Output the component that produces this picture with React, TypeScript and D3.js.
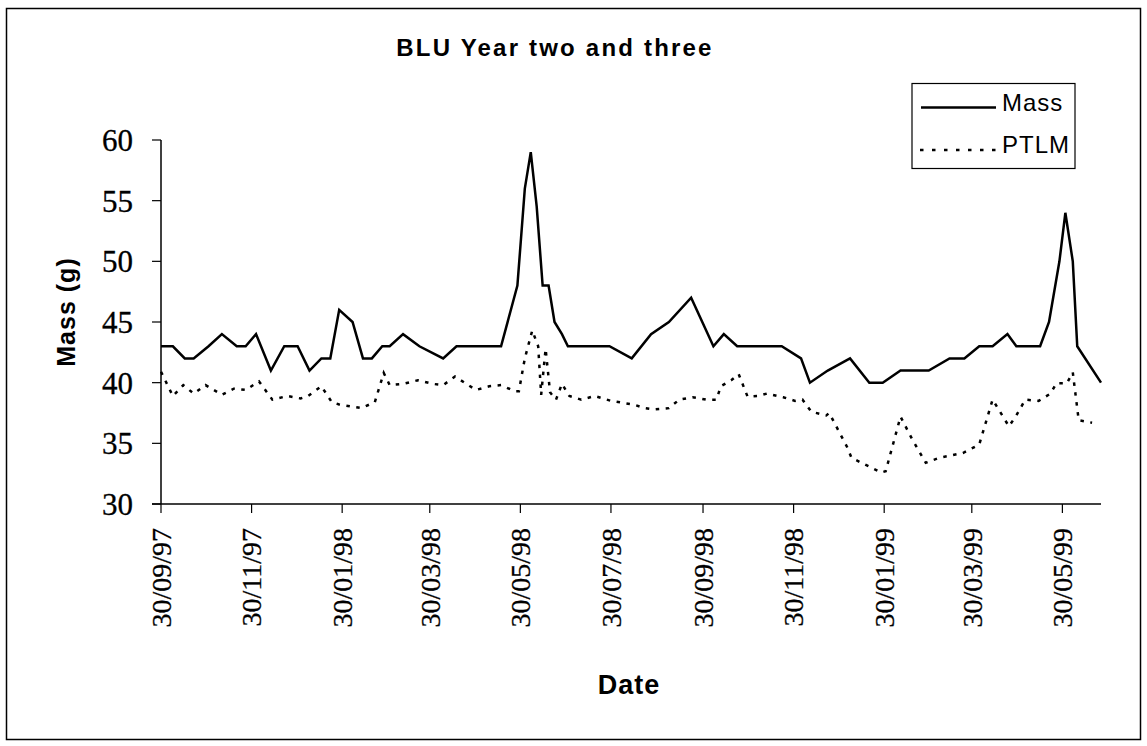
import React from 'react'
import * as d3 from 'd3'

// Mass series (g)
const massDates = [
  '1997-09-30', '1997-10-08', '1997-10-16', '1997-10-22', '1997-11-01', '1997-11-10',
  '1997-11-20', '1997-11-26', '1997-12-03', '1997-12-13', '1997-12-22', '1997-12-31',
  '1998-01-08', '1998-01-16', '1998-01-22', '1998-01-28', '1998-02-06', '1998-02-13',
  '1998-02-19', '1998-02-26', '1998-03-03', '1998-03-12', '1998-03-23', '1998-04-08',
  '1998-04-17', '1998-05-03', '1998-05-17', '1998-05-28', '1998-06-02', '1998-06-06',
  '1998-06-10', '1998-06-14', '1998-06-18', '1998-06-22', '1998-06-27', '1998-07-01',
  '1998-07-29', '1998-08-13', '1998-08-26', '1998-09-07', '1998-09-22', '1998-10-07',
  '1998-10-14', '1998-10-23', '1998-11-22', '1998-12-05', '1998-12-11', '1998-12-23',
  '1999-01-07', '1999-01-20', '1999-01-29', '1999-02-10', '1999-03-01', '1999-03-15',
  '1999-03-25', '1999-04-04', '1999-04-13', '1999-04-23', '1999-04-29', '1999-05-15',
  '1999-05-21', '1999-05-28', '1999-06-01', '1999-06-06', '1999-06-09', '1999-06-25'
]
const massValues = [
  43, 43, 42, 42, 43, 44,
  43, 43, 44, 41, 43, 43,
  41, 42, 42, 46, 45, 42,
  42, 43, 43, 44, 43, 42,
  43, 43, 43, 48, 56, 59,
  54.5, 48, 48, 45, 44, 43,
  43, 42, 44, 45, 47, 43,
  44, 43, 43, 42, 40, 41,
  42, 40, 40, 41, 41, 42,
  42, 43, 43, 44, 43, 43,
  45, 50, 54, 50, 43, 40
]

// PTLM series (g)
const ptlmDates = [
  '1997-09-30', '1997-10-08', '1997-10-15', '1997-10-22', '1997-10-30', '1997-11-10',
  '1997-11-18', '1997-11-26', '1997-12-05', '1997-12-14', '1997-12-24', '1998-01-02',
  '1998-01-07', '1998-01-16', '1998-01-23', '1998-01-28', '1998-02-12', '1998-02-21',
  '1998-02-27', '1998-03-03', '1998-03-12', '1998-03-22', '1998-04-01', '1998-04-08',
  '1998-04-16', '1998-04-30', '1998-05-09', '1998-05-17', '1998-05-26', '1998-05-29',
  '1998-06-02', '1998-06-07', '1998-06-11', '1998-06-13', '1998-06-16', '1998-06-19',
  '1998-06-23', '1998-06-27', '1998-07-02', '1998-07-10', '1998-07-19', '1998-07-30',
  '1998-08-14', '1998-08-22', '1998-08-28', '1998-09-07', '1998-09-14', '1998-09-23',
  '1998-10-02', '1998-10-09', '1998-10-12', '1998-10-19', '1998-10-24', '1998-10-30',
  '1998-11-06', '1998-11-12', '1998-11-23', '1998-12-01', '1998-12-06', '1998-12-12',
  '1998-12-22', '1998-12-24', '1999-01-05', '1999-01-08', '1999-01-18', '1999-01-28',
  '1999-01-31', '1999-02-10', '1999-02-18', '1999-02-27', '1999-03-08', '1999-03-16',
  '1999-03-24', '1999-04-04', '1999-04-13', '1999-04-24', '1999-04-29', '1999-05-05',
  '1999-05-14', '1999-05-22', '1999-05-26', '1999-06-02', '1999-06-06', '1999-06-10',
  '1999-06-19'
]
const ptlmValues = [
  40.9, 38.9, 39.8, 39.1, 39.8, 39.0,
  39.5, 39.4, 40.1, 38.6, 38.9, 38.7,
  38.9, 39.7, 38.4, 38.2, 37.9, 38.4,
  40.8, 39.8, 39.9, 40.2, 39.9, 39.8,
  40.5, 39.4, 39.7, 39.8, 39.3, 39.3,
  42.0, 44.3, 43.0, 39.0, 42.8, 39.2,
  38.6, 39.9, 38.9, 38.6, 38.9, 38.5,
  38.2, 37.9, 37.8, 37.9, 38.6, 38.8,
  38.6, 38.6, 39.7, 40.2, 40.7, 38.85,
  38.9, 39.1, 38.8, 38.5, 38.6, 37.6,
  37.3, 37.5, 34.7, 33.8, 33.2, 32.6,
  32.7, 37.2, 35.3, 33.4, 33.8, 34.0,
  34.2, 34.9, 38.6, 36.4, 37.3, 38.6,
  38.5, 39.1, 39.95, 39.95, 40.85, 36.9,
  36.7
]

const tickDates = [
  '1997-09-30', '1997-11-30', '1998-01-30', '1998-03-30', '1998-05-30', '1998-07-30',
  '1998-09-30', '1998-11-30', '1999-01-30', '1999-03-30', '1999-05-30'
]
const yTicks = [30, 35, 40, 45, 50, 55, 60]

const parse = d3.timeParse('%Y-%m-%d')
const fmt = d3.timeFormat('%d/%m/%y')

const App = () => {
  const left = 161, right = 1101, top = 140, bottom = 504

  const x = d3.scaleTime()
    .domain([parse('1997-09-30') as Date, parse('1999-06-25') as Date])
    .range([left, right])
  const y = d3.scaleLinear().domain([30, 60]).range([bottom, top])

  const line = d3.line<[string, number]>()
    .x(d => x(parse(d[0]) as Date))
    .y(d => y(d[1]))

  const massPath = line(massDates.map((d, i) => [d, massValues[i]] as [string, number])) || ''
  const ptlmPath = line(ptlmDates.map((d, i) => [d, ptlmValues[i]] as [string, number])) || ''

  const sans = 'Arial, "Liberation Sans", sans-serif'
  const serif = '"Times New Roman", "Liberation Serif", serif'

  return (
    <svg width={1147} height={746} style={{ position: 'absolute', left: 0, top: 0, background: '#fff' }}>
      <rect x={6.5} y={8.5} width={1134} height={731} fill="#fff" stroke="#000" strokeWidth={1.5} />

      {/* Title */}
      <text x={555} y={56} textAnchor="middle" fontFamily={sans} fontWeight="bold" fontSize={24}
        letterSpacing={2.2}>BLU Year two and three</text>

      {/* Y axis */}
      <line x1={left} x2={left} y1={top} y2={bottom} stroke="#000" strokeWidth={1.5} />
      {yTicks.map(t => (
        <g key={t}>
          <line x1={left - 9} x2={left} y1={y(t)} y2={y(t)} stroke="#000" strokeWidth={1.2} />
          <text x={133} y={y(t)} dy="0.35em" textAnchor="end" fontFamily={serif} fontSize={31}
            stroke="#000" strokeWidth={0.3}>{t}</text>
        </g>
      ))}

      {/* X axis */}
      <line x1={left - 9} x2={right} y1={bottom} y2={bottom} stroke="#000" strokeWidth={1.5} />
      {tickDates.map(t => {
        const px = x(parse(t) as Date)
        return (
          <g key={t}>
            <line x1={px} x2={px} y1={bottom} y2={bottom + 9} stroke="#000" strokeWidth={1.2} />
            <text transform={`translate(${px},528) rotate(-90)`} dy="0.35em" textAnchor="end"
              fontFamily={serif} fontSize={28} stroke="#000" strokeWidth={0.3}>{fmt(parse(t) as Date)}</text>
          </g>
        )
      })}

      {/* Axis titles */}
      <text transform="translate(75,312) rotate(-90)" textAnchor="middle" fontFamily={sans}
        fontWeight="bold" fontSize={25} letterSpacing={1}>Mass (g)</text>
      <text x={629} y={694} textAnchor="middle" fontFamily={sans} fontWeight="bold" fontSize={27}
        letterSpacing={1}>Date</text>

      {/* Series */}
      <path d={ptlmPath} fill="none" stroke="#000" strokeWidth={2.5} strokeDasharray="3.5 6.5" />
      <path d={massPath} fill="none" stroke="#000" strokeWidth={2.5} strokeLinejoin="miter" />

      {/* Legend */}
      <rect x={912} y={83.5} width={163} height={85} fill="#fff" stroke="#000" strokeWidth={1.2} />
      <line x1={921} x2={996} y1={107.5} y2={107.5} stroke="#000" strokeWidth={2.5} />
      <text x={1002} y={111} fontFamily={sans} fontSize={24} letterSpacing={1}>Mass</text>
      <line x1={920} x2={996} y1={150} y2={150} stroke="#000" strokeWidth={2.5} strokeDasharray="3.5 8.5" />
      <text x={1002} y={153} fontFamily={sans} fontSize={24} letterSpacing={1}>PTLM</text>
    </svg>
  )
}

export default App
